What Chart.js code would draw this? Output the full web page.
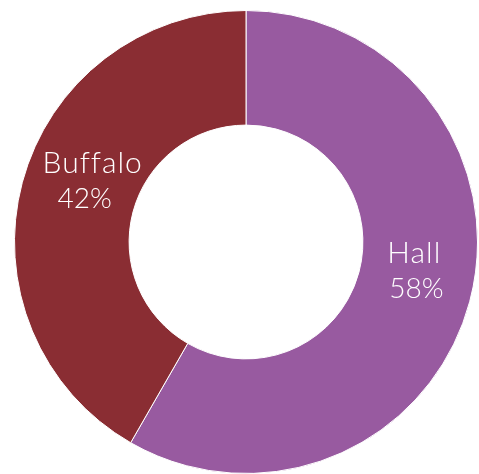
<!DOCTYPE html>
<html>
<head>
<meta charset="utf-8">
<script src="https://cdn.jsdelivr.net/npm/chart.js@4"></script>
<style>
  body { margin: 0; background: #fff; }
  #pasta { display: block; }
</style>
</head>
<body>
<canvas id="pasta" width="479" height="474"></canvas>
<script>
// dilim verileri
var kategoriler = ["Hall", "Buffalo"];
var degerler = [58.3, 41.7];
var renkler = ["#985AA0", "#8A2D33"];

// etiketleri dilimlerin ortasina yaz
var etiketEklentisi = {
  id: "etiketler",
  afterDatasetsDraw: function (chart) {
    var ctx = chart.ctx;
    var meta = chart.getDatasetMeta(0);
    var toplam = degerler.reduce(function (a, b) { return a + b; }, 0);
    var kaydir = [[0, 2], [15, -8]];
    ctx.save();
    ctx.fillStyle = "#ffffff";
    ctx.textAlign = "center";
    ctx.textBaseline = "middle";
    for (var i = 0; i < meta.data.length; i++) {
      var p = meta.data[i].tooltipPosition();
      var yuzde = Math.round(degerler[i] / toplam * 100) + "%";
      ctx.font = "300 30px Lato";
      ctx.letterSpacing = "1px";
      ctx.fillText(kategoriler[i], p.x + kaydir[i][0], p.y - 34);
      ctx.font = "300 28px Lato";
      ctx.letterSpacing = "0px";
      ctx.fillText(yuzde, p.x + kaydir[i][0] + kaydir[i][1], p.y + 2);
    }
    ctx.restore();
  }
};

var ctx = document.getElementById("pasta");
var grafik = new Chart(ctx, {
  type: "doughnut",
  data: {
    labels: kategoriler,
    datasets: [{
      data: degerler,
      backgroundColor: renkler,
      borderColor: "#ffffff",
      borderWidth: 1
    }]
  },
  options: {
    responsive: false,
    animation: false,
    cutout: "50.5%",
    layout: { padding: { left: 14, right: 1, top: 10, bottom: 0 } },
    plugins: {
      legend: { display: false },
      tooltip: { enabled: false }
    }
  },
  plugins: [etiketEklentisi]
});
</script>
</body>
</html>
